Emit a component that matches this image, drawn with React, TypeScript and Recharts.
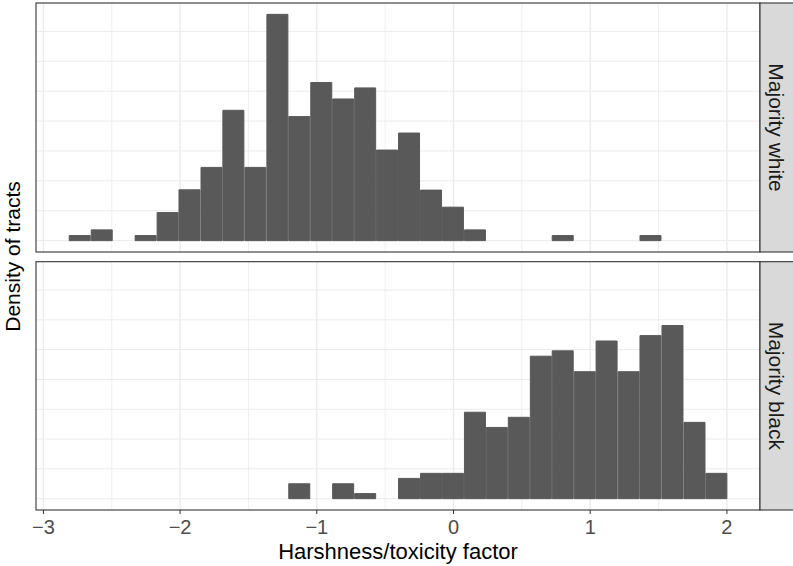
import { BarChart, Bar, XAxis, YAxis, CartesianGrid } from 'recharts';

// bin centres of the histogram (30 bins, width ~0.16)
const BIN_CENTERS = [
  -2.731, -2.570, -2.410, -2.249, -2.088, -1.928, -1.767, -1.607, -1.446, -1.285,
  -1.125, -0.964, -0.804, -0.643, -0.483, -0.322, -0.161, -0.001, 0.160, 0.320,
  0.481, 0.642, 0.802, 0.963, 1.123, 1.284, 1.444, 1.605, 1.766, 1.926,
];

const WHITE_DENSITY = [
  0.017, 0.036, 0, 0.017, 0.094, 0.170, 0.245, 0.436, 0.245, 0.757,
  0.415, 0.529, 0.474, 0.511, 0.303, 0.360, 0.169, 0.112, 0.036, 0,
  0, 0, 0.017, 0, 0, 0, 0.017, 0, 0, 0,
];

const BLACK_DENSITY = [
  0, 0, 0, 0, 0, 0, 0, 0, 0, 0,
  0.050, 0, 0.050, 0.017, 0, 0.068, 0.085, 0.085, 0.290, 0.239,
  0.273, 0.478, 0.496, 0.426, 0.529, 0.426, 0.547, 0.581, 0.256, 0.085,
];

const FACETS = ['Majority white', 'Majority black'];
const X_TICKS = [-3, -2, -1, 0, 1, 2];
const X_MINOR = [-2.5, -1.5, -0.5, 0.5, 1.5];
const Y_GRID = [0, 0.1, 0.2, 0.3, 0.4, 0.5, 0.6, 0.7];

const X_DOMAIN: [number, number] = [-3.054, 2.242];
const Y_DOMAIN: [number, number] = [-0.038, 0.795];

const W = 793;
const H = 566;
const FONT = '"Liberation Sans", Arial, sans-serif';
const LEFT = 36;
const RIGHT = 760;

// panel boxes: top / bottom in px
const PANELS = [
  { top: 3, bottom: 252 },
  { top: 261.7, bottom: 510 },
];

const fmt = (v: number) => String(v).replace('-', '\u2212');

function Panel({ values, top, bottom, showAxis }: { values: number[]; top: number; bottom: number; showAxis: boolean }) {
  const data = BIN_CENTERS.map((x, i) => ({ x, d: values[i] }));
  const axisH = 30;
  return (
    <div style={{ position: 'absolute', left: 0, top: 0 }}>
      <BarChart
        width={W}
        height={H}
        data={data}
        margin={{ top, left: LEFT, right: W - RIGHT, bottom: H - bottom - (showAxis ? axisH : 0) }}
        barGap={0}
        barCategoryGap={0}
      >
        <CartesianGrid
          stroke="#EBEBEB"
          strokeWidth={0.8}
          horizontal={false}
          verticalValues={X_MINOR}
          fill="none"
        />
        <CartesianGrid
          stroke="#EBEBEB"
          strokeWidth={1.4}
          horizontal={false}
          verticalValues={X_TICKS}
          fill="none"
        />
        <CartesianGrid
          stroke="#EBEBEB"
          strokeWidth={1}
          vertical={false}
          horizontalValues={Y_GRID}
          fill="none"
        />
        <XAxis
          dataKey="x"
          type="number"
          domain={X_DOMAIN}
          allowDataOverflow
          ticks={X_TICKS}
          hide={!showAxis}
          height={axisH}
          axisLine={false}
          tickLine={{ stroke: '#333333', strokeWidth: 1 }}
          tickSize={4}
          tickMargin={6}
          tickFormatter={fmt}
          tick={{ fill: '#4D4D4D', fontSize: 20, fontFamily: FONT }}
          interval={0}
        />
        <YAxis type="number" domain={Y_DOMAIN} allowDataOverflow hide />
        <Bar dataKey="d" fill="#595959" stroke="#595959" strokeWidth={1} barSize={21} isAnimationActive={false} />
      </BarChart>
    </div>
  );
}

export default function App() {
  return (
    <div style={{ position: 'absolute', left: 0, top: 0, width: W, height: H, background: '#fff', fontFamily: FONT }}>
      <Panel values={WHITE_DENSITY} top={PANELS[0].top} bottom={PANELS[0].bottom} showAxis={false} />
      <Panel values={BLACK_DENSITY} top={PANELS[1].top} bottom={PANELS[1].bottom} showAxis />
      <svg width={W} height={H} style={{ position: 'absolute', left: 0, top: 0 }}>
        {PANELS.map((p, i) => (
          <g key={i}>
            <rect x={LEFT} y={p.top} width={RIGHT - LEFT} height={p.bottom - p.top} fill="none" stroke="#333333" strokeWidth={1.1} />
            <rect x={RIGHT} y={p.top} width={40} height={p.bottom - p.top} fill="#D9D9D9" stroke="#333333" strokeWidth={1.1} />
            <text
              transform={`translate(769,${(p.top + p.bottom) / 2}) rotate(90)`}
              textAnchor="middle"
              fontSize={21}
              fill="#1A1A1A"
              fontFamily={FONT}
            >
              {FACETS[i]}
            </text>
          </g>
        ))}
        <text x={(LEFT + RIGHT) / 2} y={559} textAnchor="middle" fontSize={22} fill="#000" fontFamily={FONT}>
          Harshness/toxicity factor
        </text>
        <text
          transform={`translate(20,${(PANELS[0].top + PANELS[1].bottom) / 2}) rotate(-90)`}
          textAnchor="middle"
          fontSize={21}
          fill="#000"
          fontFamily={FONT}
        >
          Density of tracts
        </text>
      </svg>
    </div>
  );
}
